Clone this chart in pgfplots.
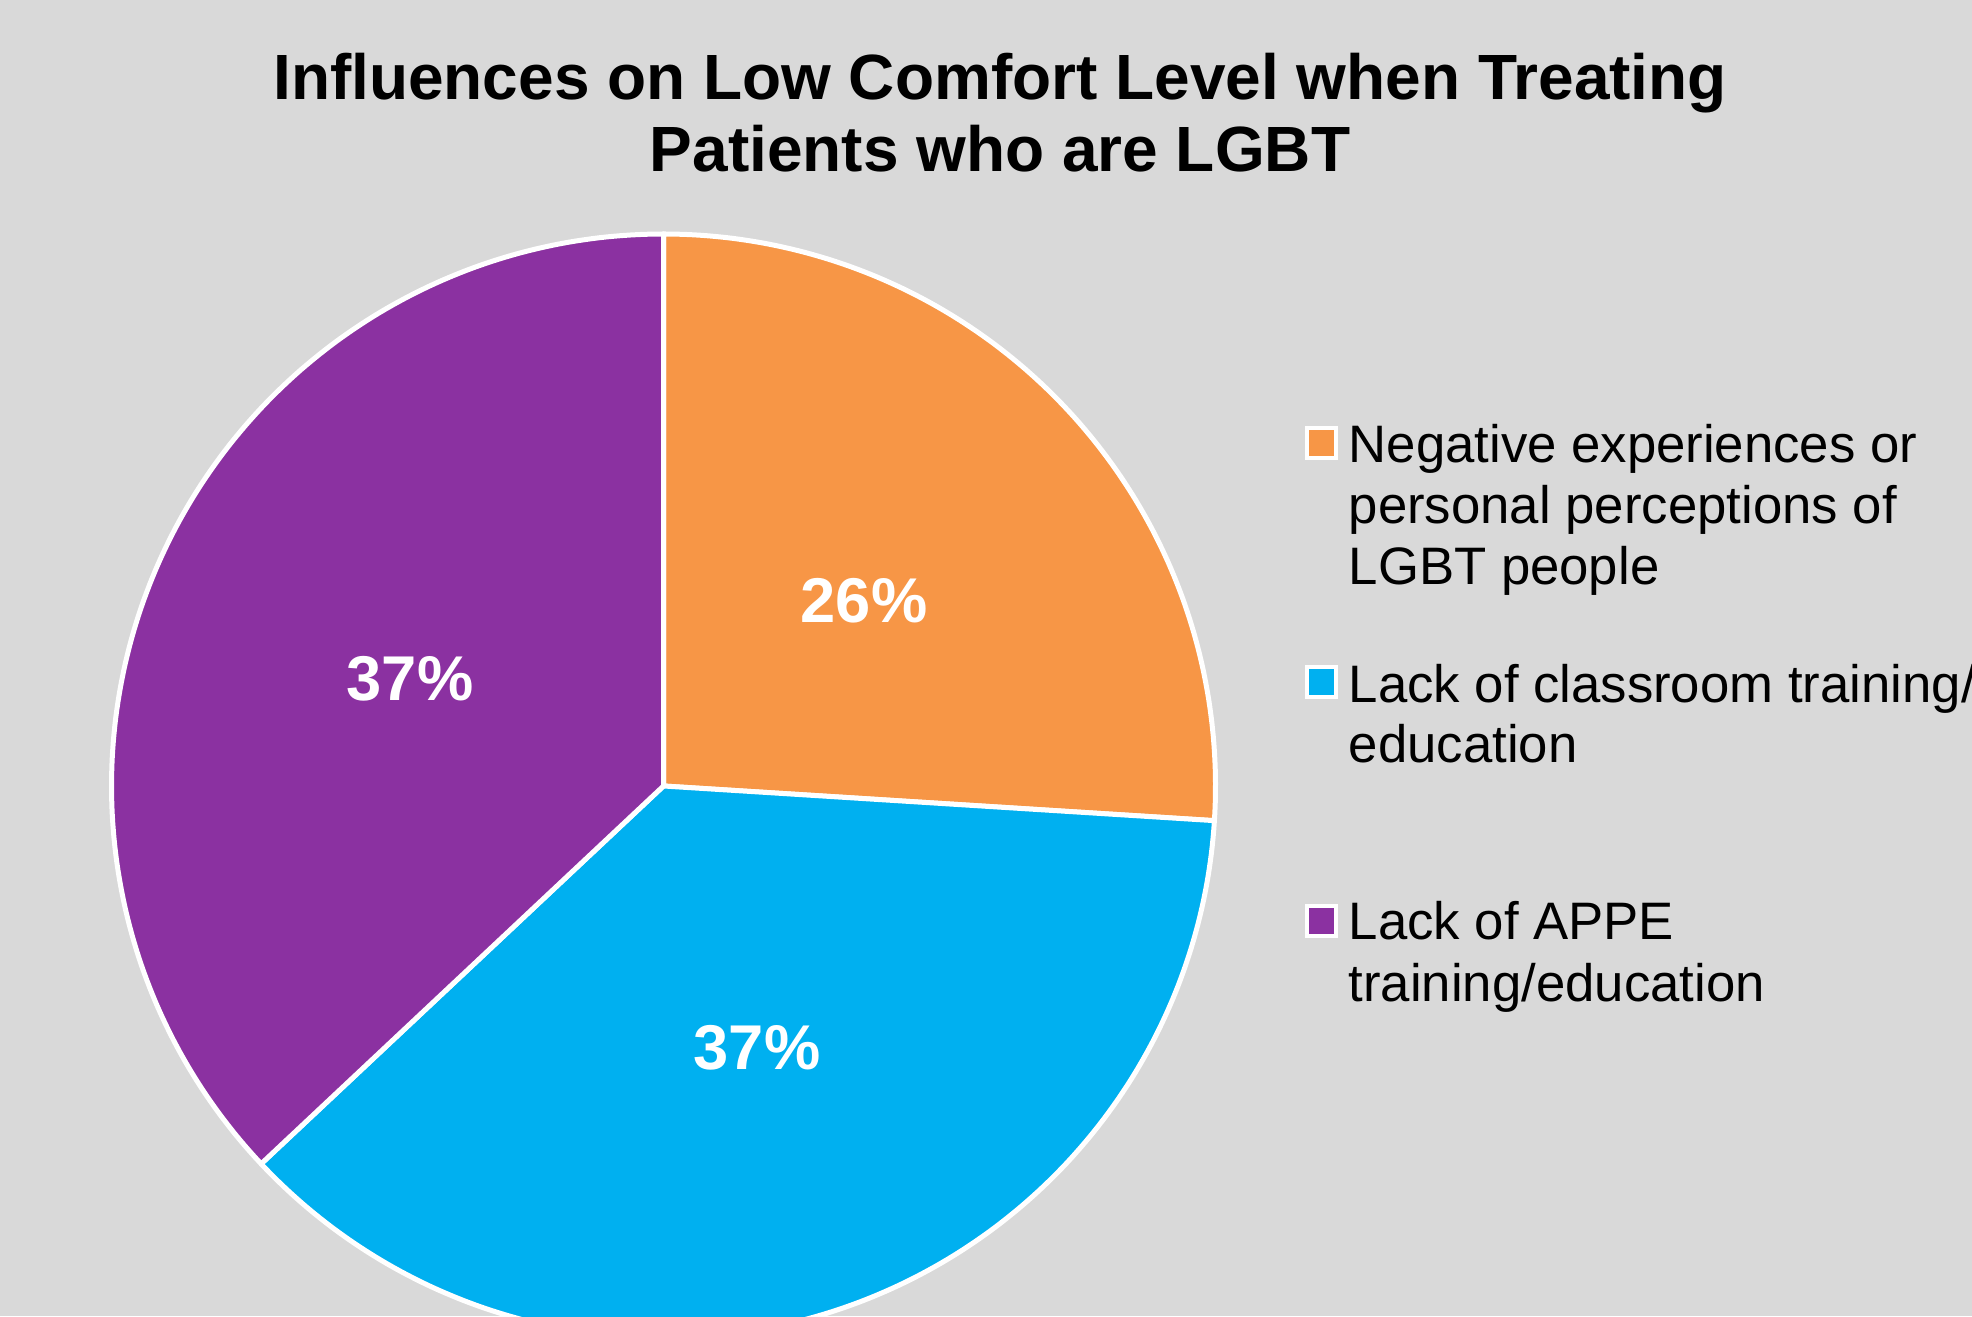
\documentclass[border=0pt]{standalone}
\usepackage{pgfplots}
\pgfplotsset{compat=1.18}
\usepackage{fontspec}
\setmainfont{Liberation Sans}
\definecolor{bg}{HTML}{D9D9D9}
\definecolor{sliceA}{HTML}{F79646}
\definecolor{sliceB}{HTML}{00B0F0}
\definecolor{sliceC}{HTML}{8B31A1}
% pie geometry (axis units = pixels of the reference)
\def\cx{663.5}\def\cy{530}\def\R{552}
% slice values in percent
\def\vA{26}\def\vB{37}\def\vC{37}
\begin{document}
\begin{tikzpicture}
\fill[bg] (0,0) rectangle (197.2mm,131.6mm);
\begin{axis}[at={(0,0)}, anchor=origin, x=0.1mm, y=0.1mm,
  xmin=0, xmax=1972, ymin=0, ymax=1316, enlargelimits=false,
  hide axis, clip=true]
\pgfmathsetmacro\sA{0}
\pgfmathsetmacro\eA{\vA}
\pgfmathsetmacro\eB{\vA+\vB}
\pgfmathsetmacro\eC{\vA+\vB+\vC}
\addplot[fill=sliceA, draw=white, line width=0.5mm, line join=round, domain=\sA:\eA, samples=120]
  ({\cx+\R*sin(3.6*x)},{\cy+\R*cos(3.6*x)}) -- (axis cs:\cx,\cy) -- cycle;
\addplot[fill=sliceB, draw=white, line width=0.5mm, line join=round, domain=\eA:\eB, samples=160]
  ({\cx+\R*sin(3.6*x)},{\cy+\R*cos(3.6*x)}) -- (axis cs:\cx,\cy) -- cycle;
\addplot[fill=sliceC, draw=white, line width=0.5mm, line join=round, domain=\eB:\eC, samples=160]
  ({\cx+\R*sin(3.6*x)},{\cy+\R*cos(3.6*x)}) -- (axis cs:\cx,\cy) -- cycle;
% data labels
\node[text=white, font=\fontsize{18}{20}\selectfont\bfseries] at (axis cs:864,715) {26\%};
\node[text=white, font=\fontsize{18}{20}\selectfont\bfseries] at (axis cs:757,268) {37\%};
\node[text=white, font=\fontsize{18}{20}\selectfont\bfseries] at (axis cs:410,637) {37\%};
% title
\node[anchor=base, font=\fontsize{18.2}{20}\selectfont\bfseries] at (axis cs:1000,1216) {Influences on Low Comfort Level when Treating};
\node[anchor=base, font=\fontsize{18.2}{20}\selectfont\bfseries] at (axis cs:1000,1144) {Patients who are LGBT};
% legend
\filldraw[fill=sliceA, draw=white, line width=0.4mm] (axis cs:1307,858) rectangle (axis cs:1336,888);
\filldraw[fill=sliceB, draw=white, line width=0.4mm] (axis cs:1307,619) rectangle (axis cs:1336,649);
\filldraw[fill=sliceC, draw=white, line width=0.4mm] (axis cs:1307,380) rectangle (axis cs:1336,410);
\begin{scope}[every node/.style={anchor=base west, inner sep=0pt, font=\fontsize{15}{17}\selectfont}]
\node at (axis cs:1348,853) {Negative experiences or};
\node at (axis cs:1348,792) {personal perceptions of};
\node at (axis cs:1348,731) {LGBT people};
\node at (axis cs:1348,613) {Lack of classroom training/};
\node at (axis cs:1348,553) {education};
\node at (axis cs:1348,376) {Lack of APPE};
\node at (axis cs:1348,314) {training/education};
\end{scope}
\end{axis}
\pgfresetboundingbox
\useasboundingbox (0,0) rectangle (197.2mm,131.6mm);
\end{tikzpicture}
\end{document}
